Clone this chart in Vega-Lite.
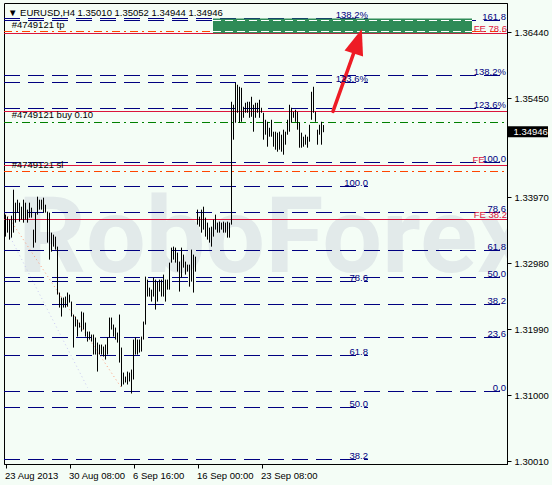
{
"$schema":"https://vega.github.io/schema/vega-lite/v6.json",
"width":503,"height":461,
"autosize":{"type":"none"},
"padding":{"left":4,"top":3,"right":45,"bottom":21},
"background":"#f4fdf6",
"config":{"view":{"stroke":"#000","strokeWidth":1},"axis":{"labelFont":"Liberation Sans","labelFontSize":9.5,"labelColor":"#000","tickColor":"#000","domainColor":"#000","grid":false},"text":{"font":"Liberation Sans","fontSize":9.5}},
"datasets":{
"bars":[
{"i":0,"hi":1.33708,"lo":1.33378},{"i":1,"hi":1.33678,"lo":1.33438},{"i":2,"hi":1.33633,"lo":1.33333},{"i":3,"hi":1.33693,"lo":1.33363},{"i":4,"hi":1.34082,"lo":1.33438},{"i":5,"hi":1.33887,"lo":1.33588},{"i":6,"hi":1.33932,"lo":1.33738},{"i":7,"hi":1.33887,"lo":1.33603},{"i":8,"hi":1.33827,"lo":1.33633},{"i":9,"hi":1.33932,"lo":1.33588},
{"i":10,"hi":1.33887,"lo":1.33633},{"i":11,"hi":1.33783,"lo":1.33588},{"i":12,"hi":1.33887,"lo":1.33663},{"i":13,"hi":1.33812,"lo":1.33663},{"i":14,"hi":1.33483,"lo":1.33213},{"i":15,"hi":1.33738,"lo":1.33288},{"i":16,"hi":1.33977,"lo":1.33708},{"i":17,"hi":1.33932,"lo":1.33783},{"i":18,"hi":1.33932,"lo":1.33783},{"i":19,"hi":1.33962,"lo":1.33738},
{"i":20,"hi":1.33857,"lo":1.33738},{"i":21,"hi":1.33753,"lo":1.33288},{"i":22,"hi":1.33738,"lo":1.33033},{"i":23,"hi":1.33438,"lo":1.33153},{"i":24,"hi":1.33408,"lo":1.33228},{"i":25,"hi":1.33378,"lo":1.33183},{"i":26,"hi":1.33228,"lo":1.32509},{"i":27,"hi":1.32539,"lo":1.32314},{"i":28,"hi":1.32464,"lo":1.32179},{"i":29,"hi":1.32464,"lo":1.32314},
{"i":30,"hi":1.32479,"lo":1.32314},{"i":31,"hi":1.32539,"lo":1.32329},{"i":32,"hi":1.32509,"lo":1.32389},{"i":33,"hi":1.32404,"lo":1.32179},{"i":34,"hi":1.32209,"lo":1.31714},{"i":35,"hi":1.32179,"lo":1.32029},{"i":36,"hi":1.32134,"lo":1.31879},{"i":37,"hi":1.32089,"lo":1.32014},{"i":38,"hi":1.32254,"lo":1.31954},{"i":39,"hi":1.32239,"lo":1.31984},
{"i":40,"hi":1.32089,"lo":1.31879},{"i":41,"hi":1.31954,"lo":1.31804},{"i":42,"hi":1.31954,"lo":1.31834},{"i":43,"hi":1.31909,"lo":1.31804},{"i":44,"hi":1.31909,"lo":1.31609},{"i":45,"hi":1.31864,"lo":1.31609},{"i":46,"hi":1.31789,"lo":1.31354},{"i":47,"hi":1.31759,"lo":1.31609},{"i":48,"hi":1.31759,"lo":1.31609},{"i":49,"hi":1.31729,"lo":1.31579},
{"i":50,"hi":1.31759,"lo":1.31534},{"i":51,"hi":1.31864,"lo":1.31609},{"i":52,"hi":1.32164,"lo":1.31864},{"i":53,"hi":1.32164,"lo":1.31984},{"i":54,"hi":1.32059,"lo":1.31879},{"i":55,"hi":1.32014,"lo":1.31834},{"i":56,"hi":1.31939,"lo":1.31789},{"i":57,"hi":1.32209,"lo":1.31489},{"i":58,"hi":1.31714,"lo":1.3113},{"i":59,"hi":1.31339,"lo":1.3116},
{"i":60,"hi":1.31279,"lo":1.3119},{"i":61,"hi":1.31354,"lo":1.3116},{"i":62,"hi":1.31339,"lo":1.31205},{"i":63,"hi":1.31384,"lo":1.31025},{"i":64,"hi":1.31834,"lo":1.31235},{"i":65,"hi":1.31864,"lo":1.31609},{"i":66,"hi":1.31834,"lo":1.31609},{"i":67,"hi":1.31834,"lo":1.31639},{"i":68,"hi":1.31879,"lo":1.31654},{"i":69,"hi":1.32104,"lo":1.31834},
{"i":70,"hi":1.32778,"lo":1.32059},{"i":71,"hi":1.32733,"lo":1.32479},{"i":72,"hi":1.32613,"lo":1.32479},{"i":73,"hi":1.32583,"lo":1.32404},{"i":74,"hi":1.32763,"lo":1.32479},{"i":75,"hi":1.32733,"lo":1.32284},{"i":76,"hi":1.32703,"lo":1.32404},{"i":77,"hi":1.32733,"lo":1.32554},{"i":78,"hi":1.32733,"lo":1.32479},{"i":79,"hi":1.32808,"lo":1.32479},
{"i":80,"hi":1.32733,"lo":1.32404},{"i":81,"hi":1.32733,"lo":1.32583},{"i":82,"hi":1.32988,"lo":1.32583},{"i":83,"hi":1.33213,"lo":1.32988},{"i":84,"hi":1.33228,"lo":1.33033},{"i":85,"hi":1.33213,"lo":1.32988},{"i":86,"hi":1.33138,"lo":1.32853},{"i":87,"hi":1.33003,"lo":1.32554},{"i":88,"hi":1.33213,"lo":1.32763},{"i":89,"hi":1.33108,"lo":1.32913},
{"i":90,"hi":1.33003,"lo":1.32808},{"i":91,"hi":1.32958,"lo":1.32853},{"i":92,"hi":1.32958,"lo":1.32628},{"i":93,"hi":1.33183,"lo":1.32703},{"i":94,"hi":1.33108,"lo":1.32539},{"i":95,"hi":1.33078,"lo":1.32853},{"i":96,"hi":1.33783,"lo":1.33558},{"i":97,"hi":1.33678,"lo":1.33528},{"i":98,"hi":1.33783,"lo":1.33438},{"i":99,"hi":1.33827,"lo":1.33483},
{"i":100,"hi":1.33663,"lo":1.33378},{"i":101,"hi":1.33588,"lo":1.33333},{"i":102,"hi":1.33513,"lo":1.33288},{"i":103,"hi":1.33528,"lo":1.33228},{"i":104,"hi":1.33633,"lo":1.33378},{"i":105,"hi":1.33708,"lo":1.33483},{"i":106,"hi":1.33588,"lo":1.33438},{"i":107,"hi":1.33603,"lo":1.33438},{"i":108,"hi":1.33588,"lo":1.33483},{"i":109,"hi":1.33603,"lo":1.33438},
{"i":110,"hi":1.33588,"lo":1.33438},{"i":111,"hi":1.33603,"lo":1.33363},{"i":112,"hi":1.33588,"lo":1.33363},{"i":113,"hi":1.35401,"lo":1.33558},{"i":114,"hi":1.35356,"lo":1.34832},{"i":115,"hi":1.35686,"lo":1.35086},{"i":116,"hi":1.35656,"lo":1.35236},{"i":117,"hi":1.35626,"lo":1.35086},{"i":118,"hi":1.35611,"lo":1.35101},{"i":119,"hi":1.35326,"lo":1.35161},
{"i":120,"hi":1.35386,"lo":1.35236},{"i":121,"hi":1.35401,"lo":1.35236},{"i":122,"hi":1.35401,"lo":1.35161},{"i":123,"hi":1.35476,"lo":1.35176},{"i":124,"hi":1.35356,"lo":1.34952},{"i":125,"hi":1.35386,"lo":1.35161},{"i":126,"hi":1.35386,"lo":1.35236},{"i":127,"hi":1.35431,"lo":1.35161},{"i":128,"hi":1.35311,"lo":1.35236},{"i":129,"hi":1.35236,"lo":1.34832},
{"i":130,"hi":1.35131,"lo":1.34907},{"i":131,"hi":1.35101,"lo":1.34727},{"i":132,"hi":1.35011,"lo":1.34877},{"i":133,"hi":1.35131,"lo":1.34877},{"i":134,"hi":1.34952,"lo":1.34727},{"i":135,"hi":1.34952,"lo":1.34682},{"i":136,"hi":1.34937,"lo":1.34652},{"i":137,"hi":1.34952,"lo":1.34682},{"i":138,"hi":1.34907,"lo":1.34652},{"i":139,"hi":1.34982,"lo":1.34607},
{"i":140,"hi":1.34952,"lo":1.34757},{"i":141,"hi":1.35131,"lo":1.34907},{"i":142,"hi":1.35356,"lo":1.34952},{"i":143,"hi":1.35311,"lo":1.35086},{"i":144,"hi":1.35251,"lo":1.35161},{"i":145,"hi":1.35281,"lo":1.35101},{"i":146,"hi":1.35251,"lo":1.34982},{"i":147,"hi":1.35086,"lo":1.34712},{"i":148,"hi":1.34937,"lo":1.34712},{"i":149,"hi":1.34877,"lo":1.34727},
{"i":150,"hi":1.34907,"lo":1.34757},{"i":151,"hi":1.34877,"lo":1.34712},{"i":152,"hi":1.35056,"lo":1.34802},{"i":153,"hi":1.35551,"lo":1.35131},{"i":154,"hi":1.35626,"lo":1.35236},{"i":155,"hi":1.35251,"lo":1.35101},{"i":156,"hi":1.34982,"lo":1.34757},{"i":157,"hi":1.35056,"lo":1.34907},{"i":158,"hi":1.35101,"lo":1.34757},{"i":159,"hi":1.35052,"lo":1.34944}
],
"levels":[
{"g":"A","lbl":"0.0","p":1.31055},{"g":"A","lbl":"23.6","p":1.31865},{"g":"A","lbl":"38.2","p":1.3236},{"g":"A","lbl":"50.0","p":1.32765},{"g":"A","lbl":"61.8","p":1.3317},{"g":"A","lbl":"78.6","p":1.3374},{"g":"A","lbl":"100.0","p":1.3449},{"g":"A","lbl":"123.6%","p":1.353},{"g":"A","lbl":"138.2%","p":1.35795},{"g":"A","lbl":"161.8","p":1.3662},
{"g":"B","lbl":"38.2","p":1.30035},{"g":"B","lbl":"50.0","p":1.30815},{"g":"B","lbl":"61.8","p":1.31595},{"g":"B","lbl":"78.6","p":1.32705},{"g":"B","lbl":"100.0","p":1.3413},{"g":"B","lbl":"123.6%","p":1.3569},{"g":"B","lbl":"138.2%","p":1.3665}
],
"fe":[{"lbl":"FE 78.6","p":1.36425},{"lbl":"FE 61.8","p":1.35255},{"lbl":"FE 50.0","p":1.34445},{"lbl":"FE 38.2","p":1.33635}],
"orders":[{"lbl":"#4749121 tp","line":1.36455,"t":1.36551,"c":"tp"},{"lbl":"#4749121 buy 0.10","line":1.3509,"t":1.35196,"c":"buy"},{"lbl":"#4749121 sl","line":1.34355,"t":1.34447,"c":"sl"}],
"salmon":[{"i":0,"p":1.33738},{"i":58.5,"p":1.31085}],
"lavender":[{"i":2.5,"p":1.33363},{"i":41,"p":1.31115}],
"arrow":[{"i":163.75,"p":1.35256},{"i":175.65,"p":1.36263}]
},
"layer":[
{"data":{"values":[{"t":"RoboForex"}]},"mark":{"type":"text","font":"Roboto","fontWeight":"bold","fontSize":106,"align":"left","baseline":"alphabetic","color":"#e2eaea","clip":true},
 "encoding":{"text":{"field":"t"},"x":{"datum":6.25,"type":"quantitative"},"y":{"datum":1.32848,"type":"quantitative"}}},
{"data":{"name":"salmon"},"mark":{"type":"line","color":"#ff9a78","strokeDash":[1,3],"strokeWidth":1},"encoding":{"x":{"field":"i","type":"quantitative"},"y":{"field":"p","type":"quantitative"}}},
{"data":{"name":"lavender"},"mark":{"type":"line","color":"#c9c9f2","strokeDash":[1,3],"strokeWidth":1},"encoding":{"x":{"field":"i","type":"quantitative"},"y":{"field":"p","type":"quantitative"}}},
{"data":{"name":"levels"},"transform":[{"filter":"datum.g=='A'"}],"mark":{"type":"rule","color":"#000080","strokeDash":[16,8],"strokeWidth":1},
 "encoding":{"y":{"field":"p","type":"quantitative"},"x":{"datum":-0.75,"type":"quantitative"},"x2":{"datum":250.5}}},
{"data":{"name":"levels"},"transform":[{"filter":"datum.g=='B'"}],"mark":{"type":"rule","color":"#000080","strokeDash":[16,8],"strokeWidth":1},
 "encoding":{"y":{"field":"p","type":"quantitative"},"x":{"datum":-0.75,"type":"quantitative"},"x2":{"datum":181.25}}},
{"data":{"name":"fe"},"mark":{"type":"rule","color":"#dc143c","strokeWidth":1},
 "encoding":{"y":{"field":"p","type":"quantitative"},"x":{"datum":-0.75,"type":"quantitative"},"x2":{"datum":250.75}}},
{"data":{"name":"orders"},"transform":[{"filter":"datum.c!='buy'"}],"mark":{"type":"rule","color":"#ff4500","strokeDash":[8,4,2,4],"strokeWidth":1},
 "encoding":{"y":{"field":"line","type":"quantitative"},"x":{"datum":-0.75,"type":"quantitative"},"x2":{"datum":250.75}}},
{"data":{"name":"orders"},"transform":[{"filter":"datum.c=='buy'"}],"mark":{"type":"rule","color":"#008000","strokeDash":[8,4,2,4],"strokeWidth":1},
 "encoding":{"y":{"field":"line","type":"quantitative"},"x":{"datum":-0.75,"type":"quantitative"},"x2":{"datum":250.75}}},
{"data":{"values":[{"lo":1.3643,"hi":1.3665}]},"mark":{"type":"rect","color":"#2e8b57"},
 "encoding":{"x":{"datum":103.75,"type":"quantitative"},"x2":{"datum":233.25},"y":{"field":"lo","type":"quantitative"},"y2":{"field":"hi"}}},
{"data":{"values":[{"p":1.3662},{"p":1.36455}]},"mark":{"type":"rule","color":"#ffffff","strokeDash":[8,4],"strokeWidth":1},
 "encoding":{"y":{"field":"p","type":"quantitative"},"x":{"datum":103.75,"type":"quantitative"},"x2":{"datum":233.25}}},
{"data":{"name":"bars"},"mark":{"type":"rule","color":"#000","strokeWidth":1},
 "encoding":{
  "x":{"field":"i","type":"quantitative","scale":{"domain":[-0.75,250.75],"nice":false,"zero":false},
   "axis":{"title":null,"values":[0,32,64,96,128],"labelAlign":"left","labelOffset":-1,"labelPadding":2,"tickSize":4,"labelFlush":false,
   "labelExpr":"datum.value==0?'23 Aug 2013':datum.value==32?'30 Aug 08:00':datum.value==64?'6 Sep 16:00':datum.value==96?'16 Sep 00:00':'23 Sep 08:00'"}},
  "y":{"field":"hi","type":"quantitative","scale":{"domain":[1.299675,1.368825],"nice":false,"zero":false},
   "axis":{"title":null,"orient":"right","values":[1.3001,1.3051,1.31,1.315,1.3199,1.3248,1.3298,1.3347,1.3397,1.3446,1.3545,1.3594,1.3644],"format":".5f","tickSize":4,"labelPadding":3}},
  "y2":{"field":"lo"}}},
{"data":{"name":"arrow"},"mark":{"type":"line","color":"#ee1c25","strokeWidth":3.5,"strokeCap":"round"},"encoding":{"x":{"field":"i","type":"quantitative"},"y":{"field":"p","type":"quantitative"}}},
{"data":{"values":[{"i":175.65,"p":1.36263}]},"mark":{"type":"point","shape":"M0,-1L0.6,0.6L-0.6,0.6Z","filled":true,"color":"#ee1c25","opacity":1,"size":1050,"angle":18},
 "encoding":{"x":{"field":"i","type":"quantitative"},"y":{"field":"p","type":"quantitative"}}},
{"data":{"name":"levels"},"transform":[{"filter":"datum.g=='A'"}],"mark":{"type":"text","color":"#000080","align":"right","baseline":"bottom","dy":1},
 "encoding":{"text":{"field":"lbl"},"y":{"field":"p","type":"quantitative"},"x":{"datum":250.25,"type":"quantitative"}}},
{"data":{"name":"levels"},"transform":[{"filter":"datum.g=='B'"}],"mark":{"type":"text","color":"#000080","align":"right","baseline":"bottom","dy":1},
 "encoding":{"text":{"field":"lbl"},"y":{"field":"p","type":"quantitative"},"x":{"datum":181.25,"type":"quantitative"}}},
{"data":{"name":"fe"},"transform":[{"filter":"datum.lbl=='FE 78.6'||datum.lbl=='FE 38.2'"}],"mark":{"type":"text","color":"#dc143c","align":"right","baseline":"bottom","dy":0},
 "encoding":{"text":{"field":"lbl"},"y":{"field":"p","type":"quantitative"},"x":{"datum":250.75,"type":"quantitative"}}},
{"data":{"name":"fe"},"transform":[{"filter":"datum.lbl=='FE 50.0'"}],"mark":{"type":"text","color":"#dc143c","align":"left","baseline":"bottom","dy":-1},
 "encoding":{"text":{"value":"FE"},"y":{"field":"p","type":"quantitative"},"x":{"datum":233.5,"type":"quantitative"}}},
{"data":{"name":"orders"},"mark":{"type":"text","color":"#000","align":"left","baseline":"middle"},
 "encoding":{"text":{"field":"lbl"},"y":{"field":"t","type":"quantitative"},"x":{"datum":3.1,"type":"quantitative"}}},
{"data":{"values":[{"t":"▼ EURUSD,H4  1.35010 1.35052 1.34944 1.34946","p":1.36735}]},"mark":{"type":"text","color":"#000","align":"left","baseline":"middle"},
 "encoding":{"text":{"field":"t"},"y":{"field":"p","type":"quantitative"},"x":{"datum":1.25,"type":"quantitative"}}},
{"data":{"values":[{"hi":1.35034,"lo":1.34869}]},"mark":{"type":"rect","color":"#000"},
 "encoding":{"x":{"datum":251,"type":"quantitative"},"x2":{"datum":271.25},"y":{"field":"hi","type":"quantitative"},"y2":{"field":"lo"}}},
{"data":{"values":[{"v":"1.34946","p":1.34946}]},"mark":{"type":"text","color":"#fff","align":"left","baseline":"middle","dx":6},
 "encoding":{"text":{"field":"v"},"y":{"field":"p","type":"quantitative"},"x":{"datum":251,"type":"quantitative"}}}
]
}
